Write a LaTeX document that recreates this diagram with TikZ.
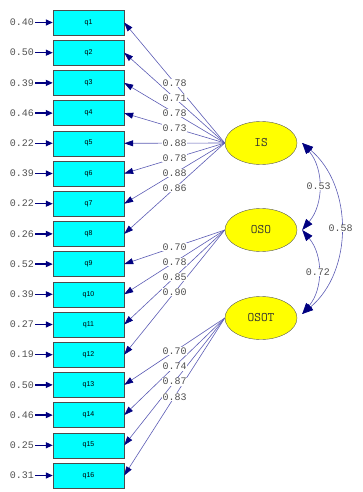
\documentclass[tikz,border=0pt]{standalone}
\usepackage{fontspec}
\setmainfont{Liberation Sans}
\setmonofont{Liberation Mono}
\newfontfamily\lvfont{Latin Modern Mono}
\usetikzlibrary{arrows.meta,shapes.geometric}
\definecolor{navy}{HTML}{000080}
\definecolor{linkblue}{HTML}{5C5CB4}
\definecolor{ink}{HTML}{505050}
\definecolor{boxfill}{RGB}{0,255,255}
\definecolor{lvfill}{RGB}{255,255,0}
\tikzset{
  item/.style={draw=black!70,fill=boxfill,minimum width=71pt,minimum height=25pt,
               inner sep=0pt,font=\fontsize{7}{7}\selectfont},
  factor/.style={ellipse,draw=black!65,fill=lvfill,minimum width=72pt,minimum height=43pt,
                 inner sep=0pt,font=\lvfont\fontsize{13}{13}\selectfont,text=black!80},
  err/.style={font=\ttfamily\fontsize{10}{10}\selectfont,text=ink,inner sep=1pt},
  earr/.style={-{Triangle[length=7pt,width=6pt]},navy,line width=1.3pt},
  load/.style={-{Triangle[length=9pt,width=6pt,color=navy]},linkblue,line width=0.6pt},
  cov/.style={{Triangle[length=11pt,width=8pt,color=navy]}-{Triangle[length=11pt,width=8pt,color=navy]},
              linkblue,line width=0.6pt},
  lbl/.style={font=\ttfamily\fontsize{10}{10}\selectfont,text=ink,fill=white,inner sep=0.6pt,midway}
}
\begin{document}
\begin{tikzpicture}[x=1pt,y=1pt]
    \useasboundingbox (0,0) rectangle (362,-492);
    % indicators
    \node[item] (q1)  at (88.5,-22.5)  {q1};  \node[item] (q2)  at (88.5,-52.7)  {q2};
    \node[item] (q3)  at (88.5,-82.9)  {q3};  \node[item] (q4)  at (88.5,-113.1) {q4};
    \node[item] (q5)  at (88.5,-143.3) {q5};  \node[item] (q6)  at (88.5,-173.5) {q6};
    \node[item] (q7)  at (88.5,-203.7) {q7};  \node[item] (q8)  at (88.5,-233.9) {q8};
    \node[item] (q9)  at (88.5,-264.1) {q9};  \node[item] (q10) at (88.5,-294.3) {q10};
    \node[item] (q11) at (88.5,-324.5) {q11}; \node[item] (q12) at (88.5,-354.7) {q12};
    \node[item] (q13) at (88.5,-384.9) {q13}; \node[item] (q14) at (88.5,-415.1) {q14};
    \node[item] (q15) at (88.5,-445.3) {q15}; \node[item] (q16) at (88.5,-475.5) {q16};
    % error variances
    \node[err] (e1)  at (22,-22.5)  {0.40}; \node[err] (e2)  at (22,-52.7)  {0.50};
    \node[err] (e3)  at (22,-82.9)  {0.39}; \node[err] (e4)  at (22,-113.1) {0.46};
    \node[err] (e5)  at (22,-143.3) {0.22}; \node[err] (e6)  at (22,-173.5) {0.39};
    \node[err] (e7)  at (22,-203.7) {0.22}; \node[err] (e8)  at (22,-233.9) {0.26};
    \node[err] (e9)  at (22,-264.1) {0.52}; \node[err] (e10) at (22,-294.3) {0.39};
    \node[err] (e11) at (22,-324.5) {0.27}; \node[err] (e12) at (22,-354.7) {0.19};
    \node[err] (e13) at (22,-384.9) {0.50}; \node[err] (e14) at (22,-415.1) {0.46};
    \node[err] (e15) at (22,-445.3) {0.25}; \node[err] (e16) at (22,-475.5) {0.31};
    \draw[earr] (e1) -- (q1);   \draw[earr] (e2) -- (q2);   \draw[earr] (e3) -- (q3);
    \draw[earr] (e4) -- (q4);   \draw[earr] (e5) -- (q5);   \draw[earr] (e6) -- (q6);
    \draw[earr] (e7) -- (q7);   \draw[earr] (e8) -- (q8);   \draw[earr] (e9) -- (q9);
    \draw[earr] (e10) -- (q10); \draw[earr] (e11) -- (q11); \draw[earr] (e12) -- (q12);
    \draw[earr] (e13) -- (q13); \draw[earr] (e14) -- (q14); \draw[earr] (e15) -- (q15);
    \draw[earr] (e16) -- (q16);
    % latent factors
    \node[factor] (IS)   at (261,-143) {IS};
    \node[factor] (OSO)  at (261,-230) {OSO};
    \node[factor] (OSOT) at (261,-318) {OSOT};
    % loadings: lines first, values on top
    \draw[load] (IS.west) -- (q1.east); \draw[load] (IS.west) -- (q2.east);
    \draw[load] (IS.west) -- (q3.east); \draw[load] (IS.west) -- (q4.east);
    \draw[load] (IS.west) -- (q5.east); \draw[load] (IS.west) -- (q6.east);
    \draw[load] (IS.west) -- (q7.east); \draw[load] (IS.west) -- (q8.east);
    \draw[load] (OSO.west) -- (q9.east);   \draw[load] (OSO.west) -- (q10.east);
    \draw[load] (OSO.west) -- (q11.east);  \draw[load] (OSO.west) -- (q12.east);
    \draw[load] (OSOT.west) -- (q13.east); \draw[load] (OSOT.west) -- (q14.east);
    \draw[load] (OSOT.west) -- (q15.east); \draw[load] (OSOT.west) -- (q16.east);
    \path (IS.west) -- node[lbl]{0.78} (q1.east); \path (IS.west) -- node[lbl]{0.71} (q2.east);
    \path (IS.west) -- node[lbl]{0.78} (q3.east); \path (IS.west) -- node[lbl]{0.73} (q4.east);
    \path (IS.west) -- node[lbl]{0.88} (q5.east); \path (IS.west) -- node[lbl]{0.78} (q6.east);
    \path (IS.west) -- node[lbl]{0.88} (q7.east); \path (IS.west) -- node[lbl]{0.86} (q8.east);
    \path (OSO.west) -- node[lbl]{0.70} (q9.east);   \path (OSO.west) -- node[lbl]{0.78} (q10.east);
    \path (OSO.west) -- node[lbl]{0.85} (q11.east);  \path (OSO.west) -- node[lbl]{0.90} (q12.east);
    \path (OSOT.west) -- node[lbl]{0.70} (q13.east); \path (OSOT.west) -- node[lbl]{0.74} (q14.east);
    \path (OSOT.west) -- node[lbl]{0.87} (q15.east); \path (OSOT.west) -- node[lbl]{0.83} (q16.east);
    % factor correlations
    \coordinate (ISr)   at ([xshift=5pt]IS.east);
    \coordinate (OSOr)  at ([xshift=5pt]OSO.east);
    \coordinate (OSOTr) at ([xshift=5pt,yshift=4pt]OSOT.east);
    \draw[cov] (ISr) to[out=-50,in=50] node[lbl]{0.53} (OSOr);
    \draw[cov] (OSOr) to[out=-50,in=50] node[lbl]{0.72} (OSOTr);
    \draw[cov] (ISr) to[out=-40,in=40] node[lbl]{0.58} (OSOTr);
\end{tikzpicture}
\end{document}
